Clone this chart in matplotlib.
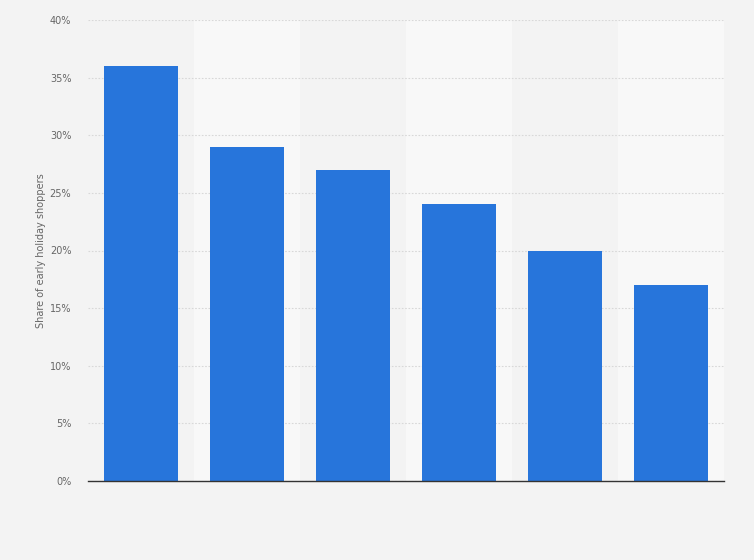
import matplotlib
matplotlib.use("Agg")
import matplotlib.pyplot as plt
from matplotlib.ticker import FuncFormatter

categories = ["A", "B", "C", "D", "E", "F"]
values = [36, 29, 27, 24, 20, 17]
yticks = [0, 5, 10, 15, 20, 25, 30, 35, 40]

fig = plt.figure(figsize=(7.54, 5.6), dpi=100)
fig.patch.set_facecolor("#f3f3f3")
ax = fig.add_axes([88/754, 79/560, 636/754, 461/560])
ax.set_facecolor("#f3f3f3")

x = list(range(len(categories)))
for i in x:
    if i % 2 == 1:
        ax.axvspan(i - 0.5, i + 0.5, color="#f8f8f8", zorder=0, lw=0)

ax.bar(x, values, width=0.69, color="#2775db", zorder=3)

ax.set_xlim(-0.5, len(categories) - 0.5)
ax.set_ylim(0, 40)
ax.set_yticks(yticks)
ax.yaxis.set_major_formatter(FuncFormatter(lambda v, p: f"{int(v)}%"))
ax.set_xticks([])
ax.grid(axis="y", color="#d8d8d8", linestyle=(0, (1.5, 1.5)), linewidth=0.8, zorder=1)
for s in ["top", "right", "left"]:
    ax.spines[s].set_visible(False)
ax.spines["bottom"].set_color("#333333")
ax.spines["bottom"].set_linewidth(1.0)
ax.spines["bottom"].set_zorder(4)
ax.tick_params(axis="y", length=0, pad=12, labelsize=7, labelcolor="#666666")
ax.set_ylabel("Share of early holiday shoppers", fontsize=7, color="#666666")
ax.yaxis.set_label_coords(-42/636, 0.5)

fig.savefig("out.png", dpi=100, facecolor=fig.get_facecolor())
